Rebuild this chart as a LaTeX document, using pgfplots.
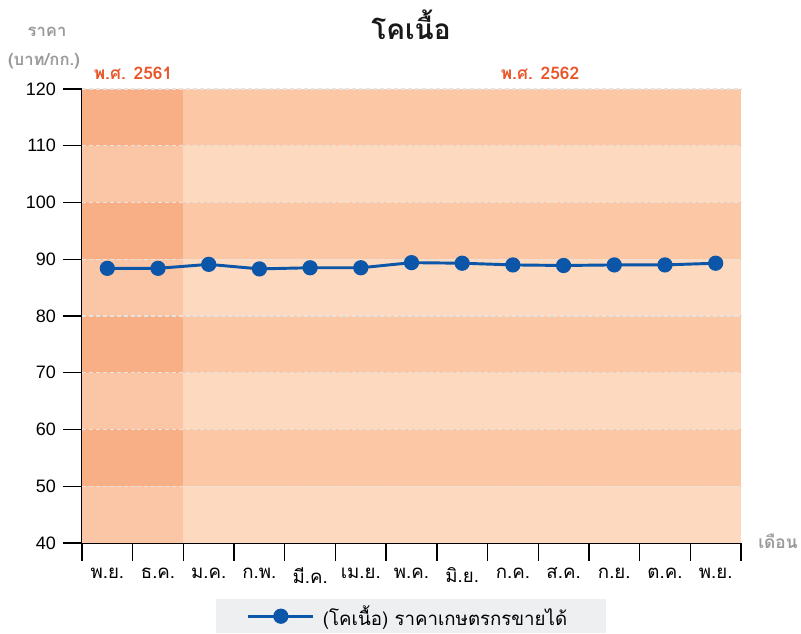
\documentclass[border=0pt]{standalone}
\usepackage{fontspec}
\usepackage{pgfplots}
\pgfplotsset{compat=1.18}
\setmainfont{Loma}[Script=Thai]
\newfontfamily\numfont{Liberation Sans}
\definecolor{darkA}{HTML}{F8AF85}
\definecolor{lightA}{HTML}{FAC6A5}
\definecolor{darkB}{HTML}{FBC7A5}
\definecolor{lightB}{HTML}{FCD9BF}
\definecolor{gridc}{HTML}{E6E4E2}
\definecolor{lineblue}{HTML}{0B56A8}
\definecolor{orangeT}{HTML}{E8562A}
\definecolor{grayT}{HTML}{9A9A9A}
\definecolor{legbg}{HTML}{EEEFF1}
\begin{document}
\begin{tikzpicture}
\useasboundingbox (-61.5pt,-68.25pt) rectangle (539.25pt,407.25pt);
\begin{axis}[
  name=ax,
  scale only axis,
  width=494.25pt, height=340.5pt,
  xmin=-0.5, xmax=12.5, ymin=40, ymax=120,
  axis x line*=bottom, axis y line*=left,
  axis line style={line width=1pt, black},
  ytick={40,50,...,120},
  xtick={0,...,12},
  xticklabels={พ.ย.,ธ.ค.,ม.ค.,ก.พ.,มี.ค.,เม.ย.,พ.ค.,มิ.ย.,ก.ค.,ส.ค.,ก.ย.,ต.ค.,พ.ย.},
  minor xtick={-0.5,0.5,...,12.5},
  tick align=outside,
  major tick length=14pt,
  minor tick length=13.5pt,
  major x tick style={draw=none},
  every tick/.style={black, line width=1pt},
  minor x tick style={black, line width=1pt},
  yticklabel style={font=\numfont\fontsize{13.5}{15}\selectfont, xshift=-2pt},
  xticklabel style={font=\fontsize{14}{15}\selectfont, yshift=-1pt},
  /pgf/number format/assume math mode=true,
  clip=false,
  legend style={at={(0.4992,-0.1235)}, anchor=north, draw=none, fill=legbg,
    font=\fontsize{14}{15}\selectfont, inner xsep=23pt, inner ysep=2.5pt,
    /tikz/every even column/.append style={column sep=0pt}},
  legend cell align=left,
  legend image code/.code={\draw[#1, mark repeat=2, mark phase=2] plot coordinates {(0cm,0cm)(0.86cm,0cm)(1.72cm,0cm)};},
  legend style={nodes={inner xsep=6pt}},
]
% background bands 2561
\addplot[draw=none, fill=lightA, forget plot] coordinates {(-0.5,40)(1.5,40)(1.5,50)(-0.5,50)} -- cycle;
\addplot[draw=none, fill=darkA, forget plot] coordinates {(-0.5,50)(1.5,50)(1.5,60)(-0.5,60)} -- cycle;
\addplot[draw=none, fill=lightA, forget plot] coordinates {(-0.5,60)(1.5,60)(1.5,70)(-0.5,70)} -- cycle;
\addplot[draw=none, fill=darkA, forget plot] coordinates {(-0.5,70)(1.5,70)(1.5,80)(-0.5,80)} -- cycle;
\addplot[draw=none, fill=lightA, forget plot] coordinates {(-0.5,80)(1.5,80)(1.5,90)(-0.5,90)} -- cycle;
\addplot[draw=none, fill=darkA, forget plot] coordinates {(-0.5,90)(1.5,90)(1.5,100)(-0.5,100)} -- cycle;
\addplot[draw=none, fill=lightA, forget plot] coordinates {(-0.5,100)(1.5,100)(1.5,110)(-0.5,110)} -- cycle;
\addplot[draw=none, fill=darkA, forget plot] coordinates {(-0.5,110)(1.5,110)(1.5,120)(-0.5,120)} -- cycle;
% background bands 2562
\addplot[draw=none, fill=lightB, forget plot] coordinates {(1.5,40)(12.5,40)(12.5,50)(1.5,50)} -- cycle;
\addplot[draw=none, fill=darkB, forget plot] coordinates {(1.5,50)(12.5,50)(12.5,60)(1.5,60)} -- cycle;
\addplot[draw=none, fill=lightB, forget plot] coordinates {(1.5,60)(12.5,60)(12.5,70)(1.5,70)} -- cycle;
\addplot[draw=none, fill=darkB, forget plot] coordinates {(1.5,70)(12.5,70)(12.5,80)(1.5,80)} -- cycle;
\addplot[draw=none, fill=lightB, forget plot] coordinates {(1.5,80)(12.5,80)(12.5,90)(1.5,90)} -- cycle;
\addplot[draw=none, fill=darkB, forget plot] coordinates {(1.5,90)(12.5,90)(12.5,100)(1.5,100)} -- cycle;
\addplot[draw=none, fill=lightB, forget plot] coordinates {(1.5,100)(12.5,100)(12.5,110)(1.5,110)} -- cycle;
\addplot[draw=none, fill=darkB, forget plot] coordinates {(1.5,110)(12.5,110)(12.5,120)(1.5,120)} -- cycle;
% dashed grid
\pgfplotsinvokeforeach{50,60,...,120}{
  \addplot[gridc, line width=1.1pt, dash pattern=on 3pt off 2.2pt, forget plot] coordinates {(-0.5,#1)(12.5,#1)};
}
% data
\addplot[lineblue, line width=2.2pt, mark=*, mark size=4.6pt, mark options={fill=lineblue, draw=lineblue}]
  coordinates {(0,88.4)(1,88.4)(2,89.1)(3,88.3)(4,88.5)(5,88.5)(6,89.4)(7,89.3)(8,89.0)(9,88.9)(10,89.0)(11,89.0)(12,89.3)};
\addlegendentry{(โคเนื้อ) ราคาเกษตรกรขายได้}
\end{axis}
\node[font=\bfseries\fontsize{21}{24}\selectfont, text=black!90] at (246.75pt,389pt) {โคเนื้อ};
\node[font=\bfseries\fontsize{12.5}{14}\selectfont, text=grayT] at (-26.25pt,383pt) {ราคา};
\node[font=\bfseries\fontsize{12.5}{14}\selectfont, text=grayT] at (-28.5pt,361pt) {(บาท/กก.)};
\node[font=\bfseries\fontsize{13}{15}\selectfont, text=orangeT] at (38.25pt,352.5pt) {พ.ศ. 2561};
\node[font=\bfseries\fontsize{13}{15}\selectfont, text=orangeT] at (343.5pt,352.5pt) {พ.ศ. 2562};
\node[font=\bfseries\fontsize{13}{15}\selectfont, text=grayT] at (522pt,1.5pt) {เดือน};
\end{tikzpicture}
\end{document}
